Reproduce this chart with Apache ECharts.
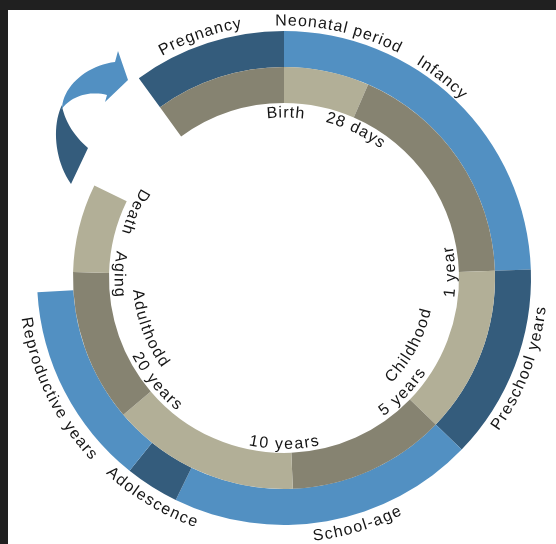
<!DOCTYPE html>
<html>
<head>
	<meta charset="utf-8">
	<title>Life cycle</title>
	<style>
		html, body { margin: 0; padding: 0; background: #fff; }
		#main { width: 556px; height: 544px; }
	</style>
</head>
<body>
<div id="main"></div>
<script src="https://cdn.jsdelivr.net/npm/echarts@6/dist/echarts.min.js"></script>
<script>
	// outer ring: life stages, span of each in degrees (clockwise from Birth at 12 o'clock)
	var outerStages = ['Neonatal period / Infancy', 'Preschool years', 'School-age', 'Adolescence', 'Reproductive years', '', 'Pregnancy'];
	var outerSpans = [88, 46, 72, 12.7, 48, 57.3, 36];

	// inner ring: age milestones
	var innerStages = ['Birth - 28 days', '28 days - 1 year', '1 - 5 years', '5 - 10 years', '10 - 20 years', 'Aging', 'Death', '', 'Pregnancy'];
	var innerSpans = [23.5, 64.5, 46, 43.6, 52, 42, 24.4, 28, 36];

	// text written round the rings
	var outerLabels = ['Pregnancy', 'Neonatal period', 'Infancy', 'Preschool years', 'School-age', 'Adolescence', 'Reproductive years'];
	var innerLabels = ['Birth', '28 days', '1 year', 'Childhood', '5 years', '10 years', '20 years', 'Adulthodd', 'Aging', 'Death'];

	// where each label sits: angle (deg, clockwise from top), radius, reading direction
	var outerLabelPos = [
		{a: 340.8, r: 258, dir: 'cw'},
		{a: 12.5, r: 257, dir: 'cw'},
		{a: 38.2, r: 256, dir: 'cw'},
		{a: 111, r: 259, dir: 'ccw'},
		{a: 163.5, r: 260, dir: 'ccw'},
		{a: 211, r: 260, dir: 'ccw'},
		{a: 244, r: 261, dir: 'ccw'}
	];
	var innerLabelPos = [
		{a: 0.5, r: 165, dir: 'cw'},
		{a: 25.7, r: 166, dir: 'cw'},
		{a: 88, r: 167, dir: 'ccw'},
		{a: 118.4, r: 146, dir: 'ccw'},
		{a: 134, r: 166, dir: 'ccw'},
		{a: 180, r: 166.5, dir: 'ccw'},
		{a: 231, r: 166, dir: 'ccw'},
		{a: 249.6, r: 147, dir: 'ccw'},
		{a: 271.4, r: 165, dir: 'ccw'},
		{a: 294, r: 164, dir: 'ccw'}
	];

	var LIGHT_BLUE = '#5290c2', DARK_BLUE = '#345c7c', LIGHT_TAN = '#b2af97', DARK_TAN = '#868371';
	var outerColors = [LIGHT_BLUE, DARK_BLUE, LIGHT_BLUE, DARK_BLUE, LIGHT_BLUE, 'rgba(0,0,0,0)', DARK_BLUE];
	var innerColors = [LIGHT_TAN, DARK_TAN, LIGHT_TAN, DARK_TAN, LIGHT_TAN, DARK_TAN, LIGHT_TAN, 'rgba(0,0,0,0)', DARK_TAN];

	var CENTER = [284, 278];
	var R_OUT = 247, R_MID = 211, R_IN = 175;
	var FONT = '16px "Liberation Sans"';
	var TRACKING = 1.2;

	var measureCtx = document.createElement('canvas').getContext('2d');
	measureCtx.font = FONT;

	function ringData(names, spans, colors) {
		return names.map(function (n, i) {
			return {name: n, value: spans[i], itemStyle: {color: colors[i]}};
		});
	}

	var allLabels = outerLabels.concat(innerLabels);
	var allPos = outerLabelPos.concat(innerLabelPos);
	var labelData = allLabels.map(function (t, i) {
		return {name: t, value: [allPos[i].r, allPos[i].a]};
	});

	// each character is placed on the arc through the polar axes
	function renderArcText(params, api) {
		var text = allLabels[params.dataIndex];
		var dir = allPos[params.dataIndex].dir;
		var r = api.value(0), mid = api.value(1);
		var chars = text.split('');
		var widths = chars.map(function (c) { return measureCtx.measureText(c).width; });
		var total = widths.reduce(function (s, w) { return s + w; }, 0) + TRACKING * (chars.length - 1);
		var span = total / r * 180 / Math.PI;
		var sign = dir === 'cw' ? 1 : -1;
		var start = mid - sign * span / 2;
		var acc = 0;
		var children = [];
		chars.forEach(function (c, i) {
			var a = start + sign * (acc + widths[i] / 2) / r * 180 / Math.PI;
			acc += widths[i] + TRACKING;
			var p = api.coord([r, a]);
			var rad = a * Math.PI / 180;
			children.push({
				type: 'text',
				x: p[0],
				y: p[1],
				rotation: dir === 'cw' ? -rad : Math.PI - rad,
				style: {text: c, fill: '#151515', font: FONT, align: 'center', verticalAlign: 'middle'}
			});
		});
		return {type: 'group', children: children};
	}

	function bezier(p0, p1, p2, p3, n) {
		var pts = [];
		for (var i = 0; i <= n; i++) {
			var t = i / n, u = 1 - t;
			pts.push([
				u * u * u * p0[0] + 3 * u * u * t * p1[0] + 3 * u * t * t * p2[0] + t * t * t * p3[0],
				u * u * u * p0[1] + 3 * u * u * t * p1[1] + 3 * u * t * t * p2[1] + t * t * t * p3[1]
			]);
		}
		return pts;
	}

	// curved arrow in the gap (decoration)
	var arrowDark = bezier([62, 105], [52, 125], [54, 160], [71, 184], 20)
		.concat(bezier([88, 148], [75, 137], [65, 122], [62, 106], 20));
	var arrowLight = bezier([62, 107], [64, 85], [88, 65], [115, 62], 20)
		.concat([[118, 51], [128, 80], [105, 102]])
		.concat(bezier([107, 95], [88, 90], [70, 97], [61, 110], 20));

	var chart = echarts.init(document.getElementById('main'), null, {renderer: 'canvas'});
	var option = {
		animation: false,
		backgroundColor: '#ffffff',
		polar: {center: CENTER, radius: R_OUT},
		angleAxis: {
			type: 'value', min: 0, max: 360, startAngle: 90, clockwise: true,
			show: false, splitLine: {show: false}, axisLine: {show: false}
		},
		radiusAxis: {
			type: 'value', min: 0, max: R_OUT,
			show: false, splitLine: {show: false}, axisLine: {show: false}
		},
		graphic: [
			{type: 'rect', shape: {x: 0, y: 0, width: 556, height: 10}, style: {fill: '#202020'}, z: 10},
			{type: 'rect', shape: {x: 0, y: 0, width: 8, height: 544}, style: {fill: '#202020'}, z: 10},
			{type: 'polygon', shape: {points: arrowDark}, style: {fill: DARK_BLUE}, z: 5},
			{type: 'polygon', shape: {points: arrowLight}, style: {fill: LIGHT_BLUE}, z: 6}
		],
		series: [
			{
				type: 'pie', name: 'Stages', silent: true,
				center: CENTER, radius: [R_MID, R_OUT],
				startAngle: 90, clockwise: true,
				label: {show: false}, labelLine: {show: false},
				emphasis: {disabled: true},
				itemStyle: {borderWidth: 0},
				data: ringData(outerStages, outerSpans, outerColors)
			},
			{
				type: 'pie', name: 'Ages', silent: true,
				center: CENTER, radius: [R_IN, R_MID],
				startAngle: 90, clockwise: true,
				label: {show: false}, labelLine: {show: false},
				emphasis: {disabled: true},
				itemStyle: {borderWidth: 0},
				data: ringData(innerStages, innerSpans, innerColors)
			},
			{
				type: 'custom', name: 'Labels', silent: true,
				coordinateSystem: 'polar',
				renderItem: renderArcText,
				data: labelData,
				z: 8
			}
		]
	};
	chart.setOption(option);
</script>
</body>
</html>
